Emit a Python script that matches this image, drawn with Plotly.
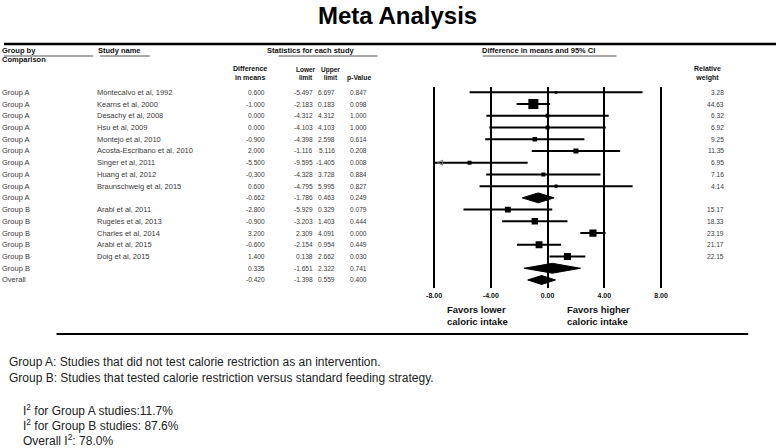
import plotly.graph_objects as go
import numpy as np

# ---------------- data ----------------
groups = ["Group A"] * 10 + ["Group B"] * 6 + ["Overall"]
studies = ["Montecalvo et al, 1992", "Kearns et al, 2000", "Desachy et al, 2008",
           "Hsu et al, 2009", "Montejo et al, 2010", "Acosta-Escribano et al, 2010",
           "Singer et al, 2011", "Huang et al, 2012", "Braunschweig et al, 2015", "",
           "Arabi et al, 2011", "Rugeles et al, 2013", "Charles et al, 2014",
           "Arabi et al, 2015", "Doig et al, 2015", "", ""]
diff = [0.600, -1.000, 0.000, 0.000, -0.900, 2.000, -5.500, -0.300, 0.600, -0.662,
        -2.800, -0.900, 3.200, -0.600, 1.400, 0.335, -0.420]
lower = [-5.497, -2.183, -4.312, -4.103, -4.398, -1.116, -9.595, -4.328, -4.795, -1.786,
         -5.929, -3.203, 2.309, -2.154, 0.138, -1.651, -1.398]
upper = [6.697, 0.183, 4.312, 4.103, 2.598, 5.116, -1.405, 3.728, 5.995, 0.463,
         0.329, 1.403, 4.091, 0.954, 2.662, 2.322, 0.559]
pval = [0.847, 0.098, 1.000, 1.000, 0.614, 0.208, 0.008, 0.884, 0.827, 0.249,
        0.079, 0.444, 0.000, 0.449, 0.030, 0.741, 0.400]
weight = [3.28, 44.63, 6.32, 6.92, 9.25, 11.35, 6.95, 7.16, 4.14, None,
          15.17, 18.33, 23.19, 21.17, 22.15, None, None]
tick_vals = [-8, -4, 0, 4, 8]
tick_text = ["-8.00", "-4.00", "0.00", "4.00", "8.00"]

W, H = 779, 448
XMIN, XMAX = -8, 8


def px(x):
    return x / W


def py(y):
    return 1 - y / H


FONT = "Liberation Sans, Arial, Helvetica, sans-serif"
TXT = "#3a3a3a"

fig = go.Figure()
n = len(diff)

for i in range(n):
    lo = float(np.clip(lower[i], XMIN, XMAX))
    hi = float(np.clip(upper[i], XMIN, XMAX))
    if weight[i] is not None:
        fig.add_trace(go.Scatter(x=[lo, hi], y=[i, i], mode="lines",
                                 line=dict(color="black", width=2), hoverinfo="skip"))
        fig.add_trace(go.Scatter(x=[diff[i]], y=[i], mode="markers",
                                 marker=dict(symbol="square", color="black",
                                             size=1.5 * np.sqrt(weight[i]), line=dict(width=0)),
                                 hoverinfo="skip"))
        if lower[i] < XMIN:
            fig.add_trace(go.Scatter(x=[XMIN + 0.25], y=[i], mode="markers",
                                     marker=dict(symbol="arrow-left-open", color="#777",
                                                 size=5, line=dict(width=1, color="#777")),
                                     hoverinfo="skip"))
    else:
        h = 0.38 if groups[i] == "Overall" else 0.42
        fig.add_trace(go.Scatter(x=[lo, diff[i], hi, diff[i], lo],
                                 y=[i, i - h, i, i + h, i], mode="lines", fill="toself",
                                 fillcolor="black", line=dict(color="black", width=1),
                                 hoverinfo="skip"))

annotations = []
LEFT_SHIFT = -3


def ann(text, x, y, xanchor="left", yref="paper", size=7.5, color=TXT, align=None,
        bold=False, yanchor="middle", family=FONT):
    if bold:
        text = "<b>" + text + "</b>"
    if align is None:
        align = xanchor if xanchor in ("left", "right") else "center"
    annotations.append(dict(text=text, x=x, y=y, xref="paper", yref=yref,
                            xanchor=xanchor, yanchor=yanchor, showarrow=False, align=align,
                            borderpad=0, borderwidth=0,
                            xshift=LEFT_SHIFT if xanchor == "left" else 0,
                            font=dict(family=family, size=size, color=color)))


# table rows
NUM = 6.6
for i in range(n):
    ann(groups[i], px(1), i, yref="y")
    if studies[i]:
        ann(studies[i], px(97), i, yref="y")
    ann(f"{diff[i]:.3f}", px(263), i, xanchor="right", yref="y", size=NUM)
    ann(f"{lower[i]:.3f}", px(312), i, xanchor="right", yref="y", size=NUM)
    ann(f"{upper[i]:.3f}", px(334), i, xanchor="right", yref="y", size=NUM)
    ann(f"{pval[i]:.3f}", px(366), i, xanchor="right", yref="y", size=NUM)
    if weight[i] is not None:
        ann(f"{weight[i]:.2f}", px(727), i, xanchor="right", yref="y", size=NUM)

# headers
HC = "#111"
ann("Group by", px(1), py(51), bold=True, color=HC, size=7.5)
ann("Comparison", px(1), py(60), bold=True, color=HC, size=7.5)
ann("Study name", px(98), py(51), bold=True, color=HC, size=7.5)
ann("Statistics for each study", px(268), py(51), bold=True, color=HC, size=7.5)
ann("Difference in means and 95% CI", px(485), py(51), bold=True, color=HC, size=7.5)
ann("Difference<br>in means", px(248), py(73), xanchor="center", bold=True, color=HC, size=7)
ann("Lower<br>limit", px(305), py(73), xanchor="center", bold=True, color=HC, size=6.5)
ann("Upper<br>limit", px(329), py(73), xanchor="center", bold=True, color=HC, size=6.5)
ann("p-Value", px(358), py(78), xanchor="center", bold=True, color=HC, size=6.8)
ann("Relative<br>weight", px(710), py(73), xanchor="center", bold=True, color=HC, size=7)

# favors labels
ann("Favors lower<br>caloric intake", px(450), py(315), size=9.5, bold=True, color="#111")
ann("Favors higher<br>caloric intake", px(571), py(315), size=9.5, bold=True, color="#111")

# title
ann("Meta Analysis", px(397), py(16), xanchor="center", size=24, bold=True, color="black")

# footer
FT = "#222"
ann("Group A: Studies that did not test calorie restriction as an intervention.", px(8), py(362), size=12, color=FT)
ann("Group B: Studies that tested calorie restriction versus standard feeding strategy.", px(8), py(378), size=12, color=FT)
ann("I<sup>2</sup> for Group A studies:11.7%", px(22), py(409.5), size=12, color=FT)
ann("I<sup>2</sup> for Group B studies: 87.6%", px(22), py(425), size=12, color=FT)
ann("Overall I<sup>2</sup>: 78.0%", px(22), py(440), size=12, color=FT)

shapes = [
    dict(type="line", xref="paper", yref="paper", x0=0, x1=1, y0=py(44), y1=py(44),
         line=dict(color="black", width=2.5)),
    dict(type="line", xref="paper", yref="paper", x0=px(53), x1=px(751), y0=py(334), y1=py(334),
         line=dict(color="black", width=2)),
]
for x0, x1 in [(0, 90), (97, 147), (277, 377), (483, 618)]:
    shapes.append(dict(type="line", xref="paper", yref="paper", x0=px(x0), x1=px(x1),
                       y0=py(56), y1=py(56), line=dict(color="#555", width=1)))

# axis geometry: -8 -> 434px, 8 -> 663px
ppu = (663 - 434) / 16
pad = 0.3
x_dom = [px(434 - pad * ppu), px(663 + pad * ppu)]
row0, rowstep = 92.3, 11.73
top_px, bot_px = 87, 288

fig.update_layout(
    width=W, height=H, margin=dict(l=0, r=0, t=0, b=0),
    paper_bgcolor="white", plot_bgcolor="white", showlegend=False, hovermode=False,
    annotations=annotations, shapes=shapes,
    xaxis=dict(domain=x_dom, range=[XMIN - pad, XMAX + pad], tickvals=tick_vals,
               ticktext=["<b>" + t + "</b>" for t in tick_text],
               tickfont=dict(family=FONT, size=7, color="#111"),
               showgrid=True, gridcolor="black", gridwidth=2, zeroline=True,
               zerolinecolor="black", zerolinewidth=2, showline=False, ticks="",
               ticklabelstandoff=2, fixedrange=True),
    yaxis=dict(domain=[py(bot_px), py(top_px)],
               range=[(bot_px - row0) / rowstep, (top_px - row0) / rowstep],
               visible=False, showgrid=False, zeroline=False, fixedrange=True),
)

fig.write_html("out.html", config={"displayModeBar": False},
               post_script="document.body.style.margin='0';document.body.style.padding='0';")
